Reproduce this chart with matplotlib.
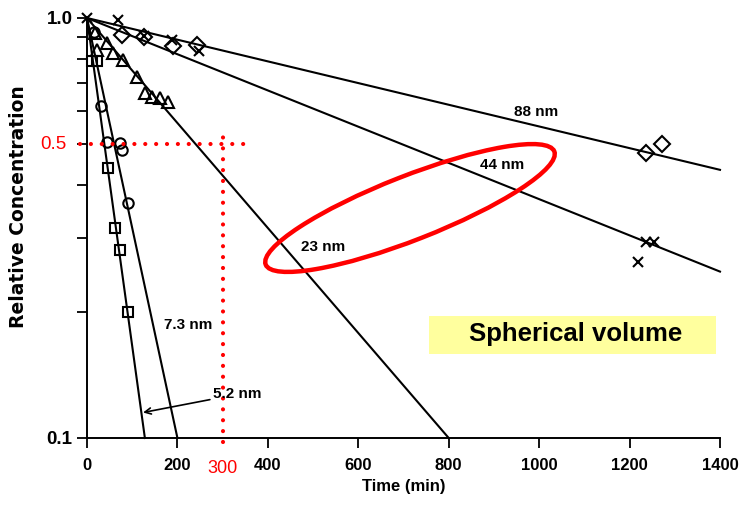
import matplotlib
matplotlib.use("Agg")
import matplotlib.pyplot as plt
from matplotlib.patches import Ellipse, Rectangle
from matplotlib.ticker import NullFormatter

plt.rcParams['font.family'] = ['Liberation Sans', 'DejaVu Sans']

# fitted decay lines (start at t=0, c=1)
line_88_t = [0, 1400]
line_88_c = [1.0, 0.435]
line_44_t = [0, 1400]
line_44_c = [1.0, 0.249]
line_23_t = [0, 800]
line_23_c = [1.0, 0.1]
line_73_t = [0, 200]
line_73_c = [1.0, 0.1]
line_52_t = [0, 128]
line_52_c = [1.0, 0.1]

# measured points
diam_t = [77, 125, 190, 243, 1237, 1271]
diam_c = [0.913, 0.90, 0.857, 0.862, 0.477, 0.50]
cross_t = [0, 69, 125, 187, 247, 1237, 1253, 1218]
cross_c = [1.0, 0.99, 0.905, 0.885, 0.835, 0.293, 0.293, 0.262]
tri_t = [18, 22, 44, 58, 80, 110, 128, 144, 161, 179]
tri_c = [0.92, 0.839, 0.872, 0.825, 0.794, 0.724, 0.663, 0.648, 0.645, 0.631]
circ_t = [15, 31, 44, 73, 78, 90]
circ_c = [0.925, 0.617, 0.507, 0.505, 0.485, 0.363]
sq_t = [12, 22, 46, 62, 73, 90]
sq_c = [0.79, 0.79, 0.44, 0.316, 0.28, 0.2]

xticks = [0, 200, 400, 600, 800, 1000, 1200, 1400]
yminor = [0.2, 0.3, 0.4, 0.5, 0.6, 0.7, 0.8, 0.9]

fig = plt.figure(figsize=(7.41, 5.09), dpi=100)
ax = fig.add_axes([87 / 741, 1 - 438 / 509, 633 / 741, 420 / 509])

lw = 1.5
for t, c in [(line_88_t, line_88_c), (line_44_t, line_44_c), (line_23_t, line_23_c),
             (line_73_t, line_73_c), (line_52_t, line_52_c)]:
    ax.plot(t, c, color='black', lw=lw, clip_on=False)

mk = dict(linestyle='none', mfc='none', mec='black', mew=1.5, clip_on=False)
ax.plot(diam_t, diam_c, marker='D', ms=8, **mk)
ax.plot(cross_t, cross_c, marker='x', ms=7.5, **mk)
ax.plot(tri_t, tri_c, marker='^', ms=8, **mk)
ax.plot(circ_t, circ_c, marker='o', ms=7.5, **mk)
ax.plot(sq_t, sq_c, marker='s', ms=7.5, **mk)

ax.set_yscale('log')
ax.set_xlim(0, 1400)
ax.set_ylim(0.1, 1.0)
ax.set_xticks(xticks)
ax.set_xticklabels([str(v) for v in xticks], fontweight='bold', fontsize=12)
ax.set_yticks([0.1, 1.0])
ax.set_yticklabels(['0.1', '1.0'], fontweight='bold', fontsize=13.5)
ax.set_yticks(yminor, minor=True)
ax.yaxis.set_minor_formatter(NullFormatter())
ax.tick_params(axis='both', which='both', direction='out', length=7.5, width=1.3)
ax.tick_params(axis='x', pad=7)
ax.tick_params(axis='y', pad=3)
for s in ['top', 'right']:
    ax.spines[s].set_visible(False)
for s in ['left', 'bottom']:
    ax.spines[s].set_linewidth(1.4)

ax.set_xlabel('Time (min)', fontweight='bold', fontsize=12)
ax.xaxis.set_label_coords(0.5, -0.098)
ax.xaxis.label.set_va('top')
ax.set_ylabel('Relative Concentration', fontweight='bold', fontsize=13.5,
              family=['DejaVu Sans'])
ax.yaxis.set_label_coords(-0.093, 0.55)

# line labels
lab = dict(fontweight='bold', fontsize=11, ha='center', va='center')
ax.text(994, 0.597, '88 nm', **lab)
ax.text(919, 0.447, '44 nm', **lab)
ax.text(522, 0.285, '23 nm', **lab)
ax.text(223, 0.186, '7.3 nm', **lab)
ax.annotate('5.2 nm', xy=(124, 0.115), xytext=(278, 0.127),
            fontweight='bold', fontsize=11, ha='left', va='center',
            arrowprops=dict(arrowstyle='->', color='black', lw=1.2,
                            shrinkA=0, shrinkB=0))

# red guide lines
red_dot = dict(color='red', lw=3.0, linestyle=(0, (0.01, 2.6)),
               dash_capstyle='round', clip_on=False)
ax.plot([-15, 360], [0.5, 0.5], **red_dot)
ax.plot([300, 300], [0.098, 0.535], **red_dot)
ax.text(-0.032, 0.5, '0.5', color='red', fontsize=13.5, ha='right', va='center',
        transform=ax.get_yaxis_transform())
ax.text(300, -0.072, '300', color='red', fontsize=13, ha='center', va='center',
        transform=ax.get_xaxis_transform())

# red ellipse and yellow box (figure inches)
ell = Ellipse((4.10, 3.01), 3.10, 0.64, angle=21.4, fill=False, ec='red', lw=3.2,
              transform=fig.dpi_scale_trans)
fig.add_artist(ell)
box = Rectangle((4.29, 1.55), 2.87, 0.38, fc='#FFFF9E', ec='none',
                transform=fig.dpi_scale_trans)
fig.add_artist(box)
fig.text(5.76 / 7.41, 1 - 3.34 / 5.09, 'Spherical volume', fontsize=18.5,
         fontweight='bold', ha='center', va='center')

fig.savefig('out.png', dpi=100)
